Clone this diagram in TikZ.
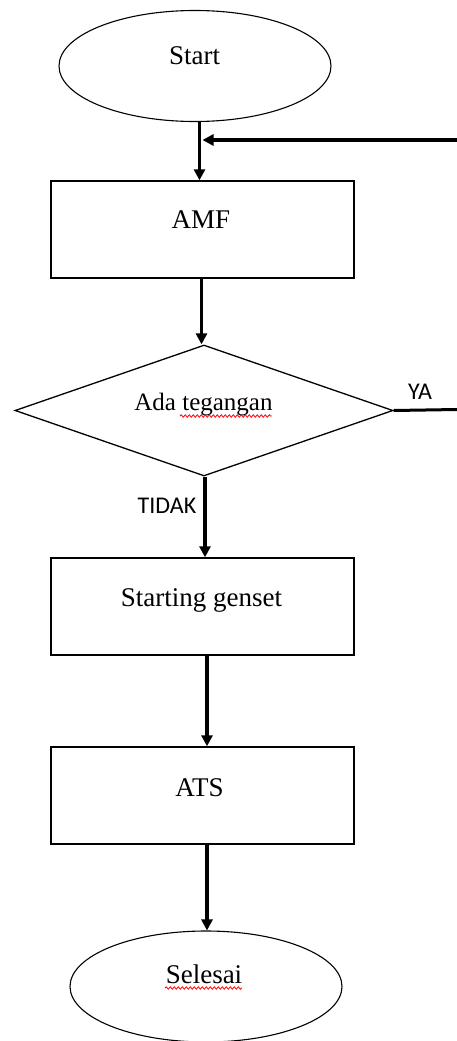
\documentclass[tikz,border=0pt]{standalone}
\usepackage{fontspec}
\setmainfont{Liberation Serif}
\newfontfamily\labelfont{Carlito}
\usetikzlibrary{shapes.geometric,arrows.meta,decorations.pathmorphing,calc}
\begin{document}
\begin{tikzpicture}[x=1pt,y=-1pt,
  term/.style={draw, ellipse, line width=1.1pt, minimum width=272pt, minimum height=111pt, inner sep=0pt},
  proc/.style={draw, rectangle, line width=1.4pt, minimum width=303pt, minimum height=97pt, inner sep=0pt},
  deci/.style={draw, diamond, line width=1.3pt, minimum width=378pt, minimum height=131pt, inner sep=0pt},
  txt/.style={anchor=base, inner sep=0pt, font=\fontsize{27}{30}\selectfont},
  dtxt/.style={anchor=base, inner sep=0pt, font=\fontsize{25}{28}\selectfont},
  lbl/.style={anchor=base, inner sep=0pt, font=\labelfont\fontsize{24}{28}\selectfont},
  arr/.style={line width=3.2pt, -{Triangle[length=11pt,width=11pt]}},
  flow/.style={line width=3pt},
  spell/.style={red, line width=0.8pt, decorate, decoration={snake, amplitude=1.2pt, segment length=4pt}}
]
\useasboundingbox (0,0) rectangle (457,1041);

% shapes
\node[term] (start) at (195,66) {};
\node[proc] (amf) at (202.5,229.5) {};
\node[deci] (dia) at (204,410.5) {};
\node[proc] (gen) at (202.5,606.5) {};
\node[proc] (ats) at (202.5,795.5) {};
\node[term] (end) at (206,986.5) {};

% texts
\node[txt] (tStart) at (194.5,64) {Start};
\node[txt] (tAmf) at (201,228) {AMF};
\node[dtxt] (tDia) at (203.5,410) {Ada tegangan};
\node[txt] (tGen) at (201.5,606.5) {Starting genset};
\node[txt] (tAts) at (199.5,796.5) {ATS};
\node[txt] (tEnd) at (204,983) {Selesai};
\node[lbl] (ya) at (420,399) {YA};
\node[lbl] (tidak) at (167,513) {TIDAK};

% spell-check marks
\draw[spell] (180,416) -- (272,416);
\draw[spell] (165,988) -- (242,988);

% connectors
\draw[arr] ([xshift=4.5pt]start.south) -- ([xshift=4.5pt]start.south |- amf.north);
\draw[arr] ([xshift=-1pt]amf.south) -- ([xshift=-1pt]amf.south |- dia.north);
\draw[arr] ([xshift=1pt]dia.south) -- ([xshift=1pt]dia.south |- gen.north);
\draw[arr] ([xshift=4.5pt]gen.south) -- ([xshift=4.5pt]gen.south |- ats.north);
\draw[arr] ([xshift=4.5pt]ats.south) -- ([xshift=4.5pt]ats.south |- end.north);

% feedback (YA) loop ends
\coordinate (yaEnd) at (457,409.5);
\coordinate (fbStart) at (457,140);
\coordinate (fbTip) at (202.5,140);
\draw[flow] (dia.east) -- (yaEnd);
\draw[arr] (fbStart) -- (fbTip);
\end{tikzpicture}
\end{document}
